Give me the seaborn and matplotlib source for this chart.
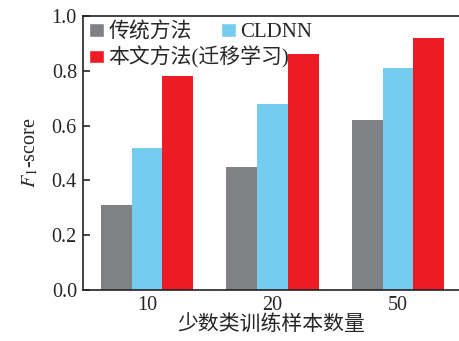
import matplotlib
matplotlib.use("Agg")
import matplotlib.pyplot as plt
import seaborn as sns
import pandas as pd
from matplotlib.patches import Patch

# Number of minority-class training samples
sample_sizes = ["10", "20", "50"]
methods = ["传统方法", "CLDNN", "本文方法(迁移学习)"]
traditional = [0.31, 0.45, 0.62]
cldnn = [0.52, 0.68, 0.81]
transfer = [0.78, 0.86, 0.92]
colors = ["#808184", "#74CDEE", "#ED1C24"]
yticks = [0.0, 0.2, 0.4, 0.6, 0.8, 1.0]

df = pd.DataFrame({
    "n": sample_sizes * 3,
    "method": [methods[0]] * 3 + [methods[1]] * 3 + [methods[2]] * 3,
    "score": traditional + cldnn + transfer,
})

sns.set_style("ticks")
plt.rcParams["font.family"] = ["Liberation Serif", "Noto Sans CJK SC"]
plt.rcParams["mathtext.fontset"] = "stix"

fig = plt.figure(figsize=(4.59, 3.41), dpi=100)
ax = fig.add_axes([82.5 / 459, 1 - 290 / 341, (459 - 82.5) / 459, (290 - 16) / 341])

sns.barplot(data=df, x="n", y="score", hue="method", hue_order=methods,
            palette=colors, width=0.74, saturation=1, ax=ax, legend=False,
            edgecolor="none", linewidth=0)

ax.set_xlim(-0.514, 2.486)
ax.set_ylim(0, 1.0)
ax.set_yticks(yticks)
ax.set_yticklabels([f"{v:.1f}" for v in yticks])
ax.tick_params(direction="in", labelsize=14.5, length=5, width=1.2, pad=4)
for side in ["left", "bottom", "top"]:
    ax.spines[side].set_linewidth(1.2)
    ax.spines[side].set_color("#222222")
ax.spines["right"].set_visible(False)

ax.set_xlabel("少数类训练样本数量", fontsize=15, labelpad=1)
ax.set_ylabel("$F_1$-score", fontsize=14.5, labelpad=8)

handles = [Patch(facecolor=colors[0], label=methods[0]),
           Patch(facecolor=colors[2], label=methods[2]),
           Patch(facecolor=colors[1], label=methods[1])]
ax.legend(handles=handles, ncol=2, loc="upper left", frameon=False,
          fontsize=15, handlelength=0.75, handleheight=0.6,
          handletextpad=0.2, columnspacing=-3.3, labelspacing=0.2,
          borderaxespad=0.0, borderpad=0.3, bbox_to_anchor=(0.0, 1.0))

fig.savefig("out.png", dpi=100)
